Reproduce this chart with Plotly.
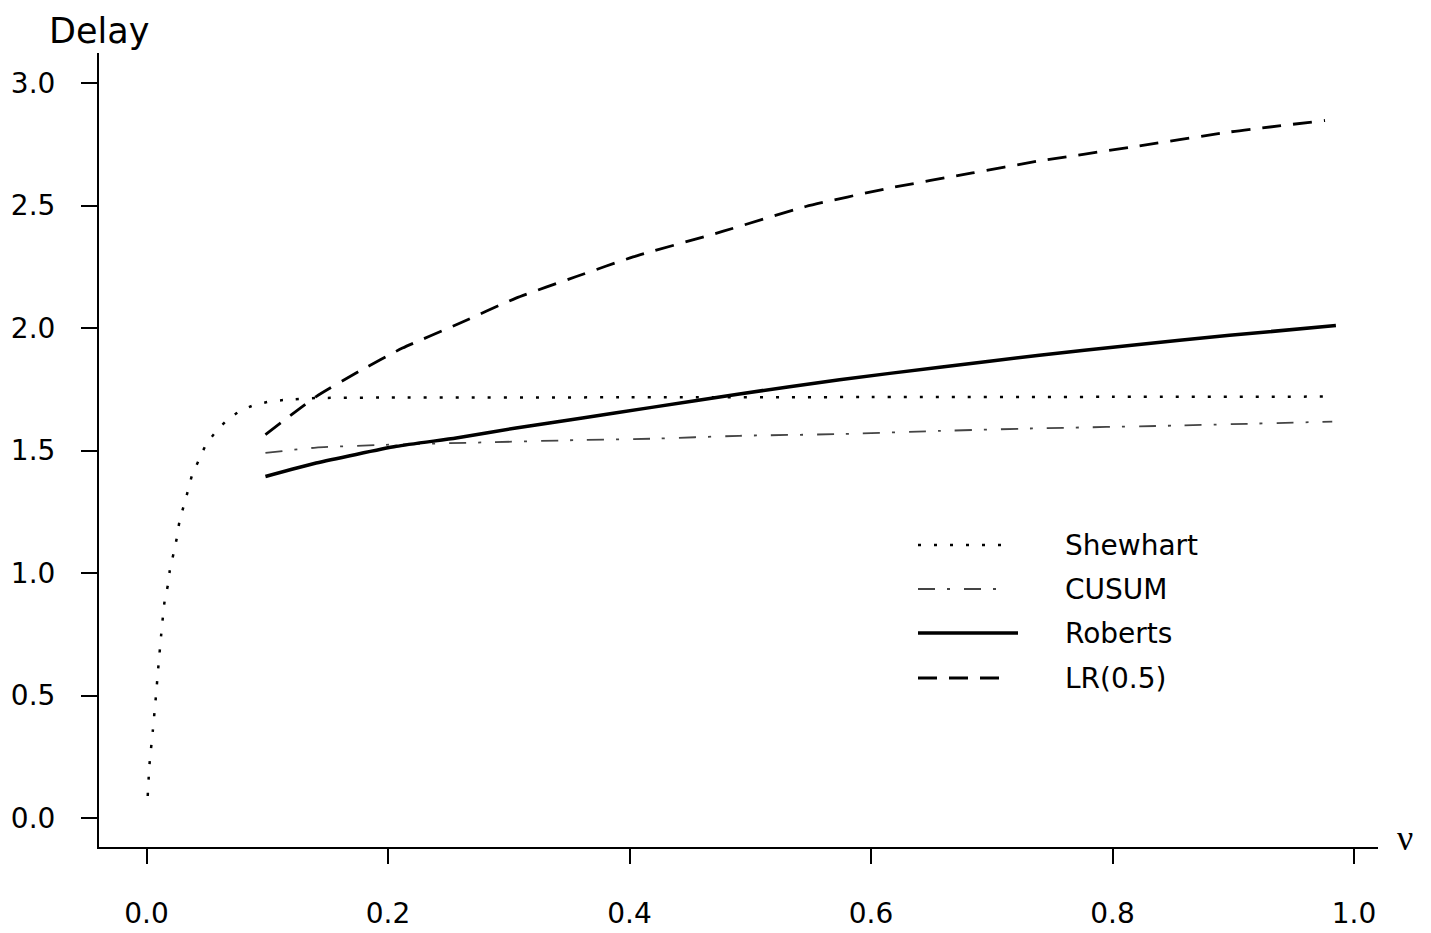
import plotly.graph_objects as go

# ---- data ----
shew_nu = [0.001, 0.0025, 0.0052, 0.0075, 0.0097, 0.0122, 0.015, 0.0177, 0.0193, 0.0224,
           0.025, 0.0273, 0.0306, 0.034, 0.0378, 0.0433, 0.0489, 0.0563, 0.066, 0.077,
           0.0894, 0.1024, 0.116, 0.14, 0.2, 0.4, 0.6, 0.8, 0.976]
shew_d = [0.09, 0.22, 0.355, 0.48, 0.61, 0.75, 0.885, 0.95, 1.01, 1.08,
          1.14, 1.21, 1.27, 1.33, 1.40, 1.46, 1.52, 1.57, 1.62, 1.66,
          1.686, 1.70, 1.707, 1.714, 1.716, 1.717, 1.718, 1.719, 1.72]

cusum_nu = [0.0985, 0.1405, 0.196, 0.2785, 0.361, 0.417, 0.491, 0.574, 0.657, 0.734, 0.855, 0.982]
cusum_d = [1.49, 1.512, 1.523, 1.533, 1.543, 1.548, 1.56, 1.567, 1.58, 1.59, 1.602, 1.618]

rob_nu = [0.0985, 0.1405, 0.207, 0.2565, 0.306, 0.361, 0.417, 0.491, 0.574, 0.657, 0.7395, 0.814, 0.897, 0.985]
rob_d = [1.394, 1.449, 1.517, 1.551, 1.592, 1.633, 1.675, 1.731, 1.789, 1.84, 1.889, 1.929, 1.97, 2.01]

lr_nu = [0.0985, 0.1405, 0.176, 0.212, 0.2565, 0.306, 0.356, 0.403, 0.477, 0.546, 0.615, 0.684, 0.737, 0.814, 0.897, 0.976]
lr_d = [1.565, 1.72, 1.823, 1.918, 2.013, 2.122, 2.21, 2.29, 2.394, 2.496, 2.571, 2.633, 2.68, 2.737, 2.80, 2.847]

series_names = ["Shewhart", "CUSUM", "Roberts", "LR(0.5)"]
x_ticks = [0.0, 0.2, 0.4, 0.6, 0.8, 1.0]
x_tick_labels = ["0.0", "0.2", "0.4", "0.6", "0.8", "1.0"]
y_ticks = [0.0, 0.5, 1.0, 1.5, 2.0, 2.5, 3.0]
y_tick_labels = ["0.0", "0.5", "1.0", "1.5", "2.0", "2.5", "3.0"]

styles = {
    "Shewhart": dict(color="black", width=2.5, dash="3px,13px"),
    "CUSUM": dict(color="#444444", width=1.8, dash="17px,12px,3px,14px"),
    "Roberts": dict(color="black", width=3.5, dash="solid"),
    "LR(0.5)": dict(color="black", width=2.8, dash="19px,12px"),
}

data = {
    "Shewhart": (shew_nu, shew_d),
    "CUSUM": (cusum_nu, cusum_d),
    "Roberts": (rob_nu, rob_d),
    "LR(0.5)": (lr_nu, lr_d),
}

fig = go.Figure()
for name in series_names:
    xs, ys = data[name]
    fig.add_trace(go.Scatter(x=xs, y=ys, mode="lines", name=name,
                             line=dict(shape="spline", smoothing=0.5, **styles[name]),
                             showlegend=False))

W, H = 1431, 933
ml, mr, mt, mb = 99, 53, 53, 86
pw, ph = W - ml - mr, H - mt - mb

def px(x):
    return (x - ml) / pw

def py(y):
    return (H - mb - y) / ph

font = "DejaVu Sans, Liberation Sans, Arial, sans-serif"

# manual legend
leg_rows = [545, 589, 633, 678]
leg_ends = [1005, 1005, 1018, 1005]
for name, yy, xe in zip(series_names, leg_rows, leg_ends):
    st = styles[name]
    fig.add_shape(type="line", xref="paper", yref="paper",
                  x0=px(918), x1=px(xe), y0=py(yy), y1=py(yy),
                  line=dict(color=st["color"], width=st["width"], dash=st["dash"]))
    fig.add_annotation(xref="paper", yref="paper", x=px(1063), y=py(yy),
                       text=name, showarrow=False, xanchor="left", yanchor="middle",
                       font=dict(family=font, size=28, color="black"))

fig.add_annotation(xref="paper", yref="paper", x=px(47), y=py(31), text="Delay",
                   showarrow=False, xanchor="left", yanchor="middle",
                   font=dict(family=font, size=35, color="black"))
fig.add_annotation(xref="paper", yref="paper", x=px(1405), y=py(838), text="ν",
                   showarrow=False, xanchor="center", yanchor="middle",
                   font=dict(family="Liberation Serif, DejaVu Serif, serif", size=36, color="black"))

x0 = (ml - 146.5) / 1207.5
x1 = (W - mr - 146.5) / 1207.5
y0 = -(847 - 818) / 245.0
y1 = (818 - 53) / 245.0

fig.update_layout(
    template="none",
    width=W, height=H, autosize=False,
    margin=dict(l=ml, r=mr, t=mt, b=mb, pad=0, autoexpand=False),
    paper_bgcolor="white", plot_bgcolor="white",
    font=dict(family=font, size=28, color="black"),
    showlegend=False,
    xaxis=dict(range=[x0, x1], tickvals=x_ticks, ticktext=x_tick_labels, automargin=False,
               showgrid=False, zeroline=False, showline=True, linecolor="black", linewidth=2,
               ticks="outside", ticklen=15, tickwidth=2, tickcolor="black",
               ticklabelstandoff=25, tickfont=dict(family=font, size=28)),
    yaxis=dict(range=[y0, y1], tickvals=y_ticks, ticktext=y_tick_labels, automargin=False,
               showgrid=False, zeroline=False, showline=True, linecolor="black", linewidth=2,
               ticks="outside", ticklen=16, tickwidth=2, tickcolor="black",
               ticklabelstandoff=20, tickfont=dict(family=font, size=28)),
)

fig.write_html("out.html", config={"displayModeBar": False},
               post_script="document.body.style.margin='0';document.body.style.padding='0';")
